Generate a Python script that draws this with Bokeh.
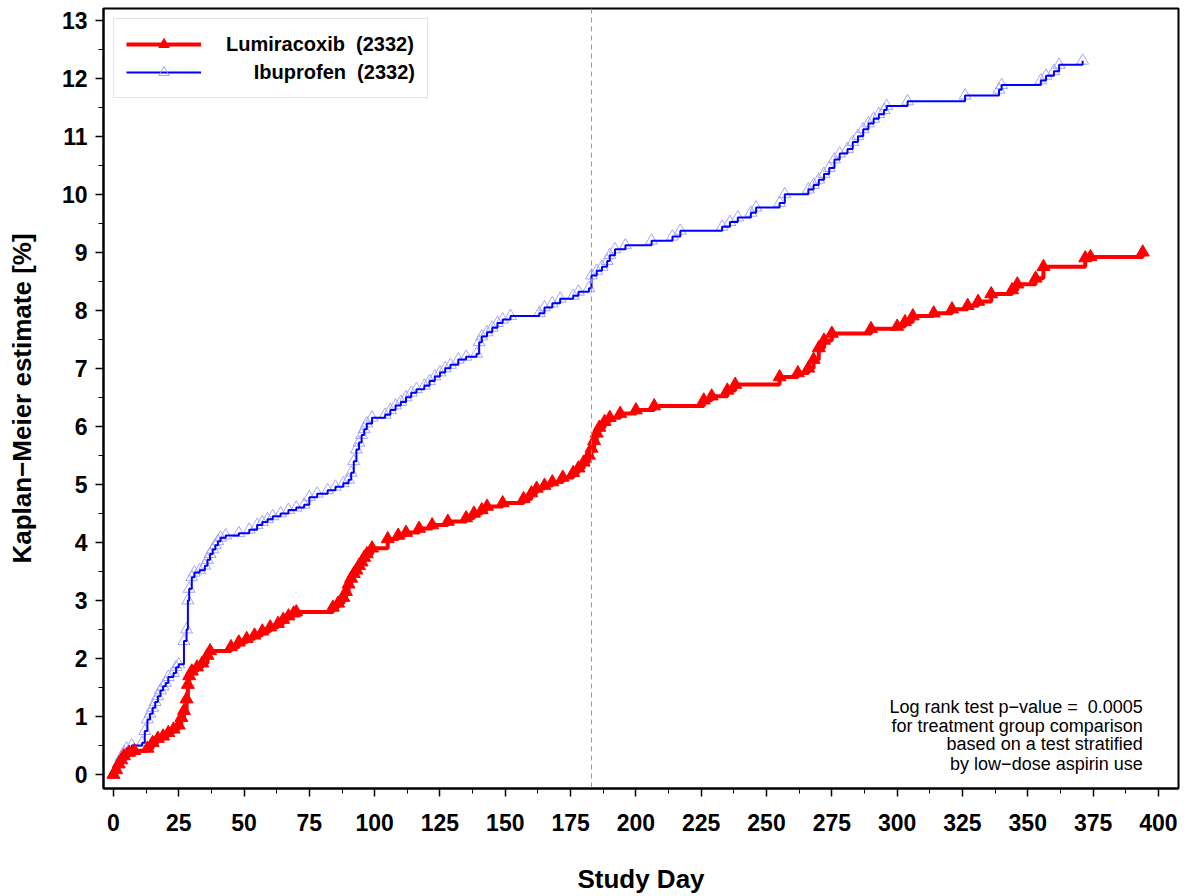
from bokeh.plotting import figure
from bokeh.models import Range1d, Span, Label, Legend, LegendItem, FixedTicker
from bokeh.embed import file_html
from bokeh.resources import INLINE

# ---------------- data ----------------
ibu_day = [0, 1, 2, 3, 4, 5, 7, 11, 12, 13, 14, 15, 16, 17, 18, 19, 20, 21, 23, 24, 25,
           27, 28, 28.5, 29, 30, 31, 33, 35, 36, 37, 38, 39, 40, 41, 43, 48, 52, 55, 57, 59,
           61, 64, 67, 70, 73, 75, 78, 82, 85, 88, 90, 91, 92, 93, 94, 95, 96, 97, 99, 104,
           106, 108, 110, 112, 114, 116, 119, 121, 123, 125, 127, 129, 132, 135, 139, 140,
           141, 143, 145, 147, 149, 152, 163, 165, 168, 171, 176, 178, 182, 183, 185, 187,
           189, 190, 192, 196, 206, 214, 217, 233, 236, 239, 244, 246, 255, 257, 266, 268,
           270, 272, 274, 276, 278, 281, 283, 285, 287, 289, 291, 293, 295, 296, 304, 326,
           339, 340, 355, 357, 360, 362, 371]
ibu_val = [0, 0.1, 0.2, 0.3, 0.38, 0.45, 0.5, 0.55, 0.75, 0.95, 1.05, 1.15, 1.25, 1.35, 1.45,
           1.52, 1.58, 1.68, 1.75, 1.85, 1.9, 2.3, 2.5, 3.0, 3.2, 3.4, 3.48, 3.52, 3.6, 3.7,
           3.8, 3.88, 3.95, 4.02, 4.08, 4.12, 4.16, 4.22, 4.3, 4.35, 4.4, 4.45, 4.5, 4.56,
           4.6, 4.65, 4.78, 4.84, 4.9, 4.96, 5.02, 5.08, 5.2, 5.4, 5.6, 5.72, 5.85, 5.95,
           6.05, 6.15, 6.2, 6.28, 6.36, 6.42, 6.5, 6.58, 6.64, 6.7, 6.78, 6.86, 6.93, 7.0,
           7.06, 7.15, 7.2, 7.25, 7.45, 7.55, 7.62, 7.7, 7.78, 7.84, 7.9, 7.95, 8.05, 8.12,
           8.2, 8.25, 8.32, 8.38, 8.6, 8.68, 8.75, 8.85, 8.95, 9.05, 9.12, 9.2, 9.27, 9.37,
           9.44, 9.52, 9.6, 9.68, 9.77, 9.85, 10.0, 10.08, 10.16, 10.25, 10.35, 10.45, 10.6,
           10.7, 10.78, 10.9, 11.0, 11.12, 11.22, 11.3, 11.38, 11.45, 11.52, 11.6, 11.7,
           11.8, 11.88, 11.96, 12.04, 12.12, 12.23, 12.3]

lum_day = [0, 1, 2, 3, 4, 6, 8, 13, 15, 17, 19, 21, 23, 25, 26, 27, 28, 28.5, 29, 30, 32,
           34, 36, 37, 45, 48, 51, 54, 57, 60, 63, 65, 67, 69, 70, 84, 86, 88, 89, 90, 91,
           92, 93, 94, 95, 96, 97, 99, 105, 109, 112, 117, 122, 128, 135, 138, 141, 143,
           149, 157, 160, 162, 165, 168, 172, 176, 178, 180, 182, 183, 184, 185, 186, 188,
           190, 194, 200, 207, 226, 229, 235, 238, 255, 262, 266, 268, 270, 272, 275, 290,
           300, 303, 306, 314, 321, 327, 331, 336, 344, 346, 353, 356, 372, 374, 394]
lum_val = [0, 0.08, 0.18, 0.25, 0.32, 0.38, 0.41, 0.45, 0.55, 0.62, 0.66, 0.72, 0.78, 0.85,
           0.98, 1.1, 1.3, 1.55, 1.7, 1.78, 1.85, 1.92, 2.05, 2.13, 2.2, 2.28, 2.34, 2.4,
           2.47, 2.54, 2.6, 2.67, 2.73, 2.78, 2.8, 2.88, 2.95, 3.05, 3.15, 3.28, 3.38, 3.46,
           3.52, 3.6, 3.66, 3.74, 3.8, 3.9, 4.06, 4.12, 4.17, 4.24, 4.3, 4.36, 4.42, 4.5,
           4.56, 4.62, 4.68, 4.75, 4.85, 4.93, 4.98, 5.04, 5.12, 5.2, 5.28, 5.38, 5.5, 5.62,
           5.75, 5.88, 5.98, 6.08, 6.15, 6.22, 6.28, 6.35, 6.45, 6.52, 6.62, 6.72, 6.85, 6.92,
           7.0, 7.15, 7.35, 7.48, 7.6, 7.68, 7.72, 7.8, 7.9, 7.95, 8.02, 8.08, 8.15, 8.28,
           8.35, 8.45, 8.55, 8.75, 8.9, 8.92, 9.0]

x_ticks = list(range(0, 401, 25))
y_ticks = list(range(0, 14))
x_minor = [12.5 + 25 * i for i in range(16)]
y_minor = [0.5 + i for i in range(13)]

NB = "\u00a0"
lum_label = "Lumiracoxib" + NB + " (2332)"
ibu_label = NB * 5 + "Ibuprofen" + NB + " (2332)"
note_lines = ["Log rank test p\u2212value =" + NB + " 0.0005",
              "for treatment group comparison",
              "based on a test stratified",
              "by low\u2212dose aspirin use"]
note_y = [1.17, 0.84, 0.52, 0.19]
six_months = 183

FONT = "Liberation Sans"

p = figure(width=1198, height=896, output_backend="svg", toolbar_location=None,
           x_range=Range1d(-3.8, 407.7), y_range=Range1d(-0.24, 13.2),
           min_border_left=103, min_border_right=20, min_border_top=8, min_border_bottom=106)
p.grid.visible = False
p.background_fill_color = "white"
p.border_fill_color = "white"
p.outline_line_color = "black"
p.outline_line_width = 2

for ax in (p.xaxis[0], p.yaxis[0]):
    ax.axis_line_color = "black"
    ax.axis_line_width = 2
    ax.major_tick_line_color = "black"
    ax.minor_tick_line_color = "black"
    ax.major_tick_line_width = 1.5
    ax.minor_tick_line_width = 1
    ax.major_tick_in = 0
    ax.major_tick_out = 8
    ax.minor_tick_in = 0
    ax.minor_tick_out = 5
    ax.major_label_text_font = FONT
    ax.major_label_text_font_size = "23px"
    ax.major_label_text_font_style = "bold"
    ax.major_label_text_color = "black"
    ax.axis_label_text_font = FONT
    ax.axis_label_text_font_size = "26px"
    ax.axis_label_text_font_style = "bold"
    ax.axis_label_text_color = "black"

p.xaxis[0].ticker = FixedTicker(ticks=x_ticks, minor_ticks=x_minor)
p.yaxis[0].ticker = FixedTicker(ticks=y_ticks, minor_ticks=y_minor)
p.xaxis[0].axis_label = "Study Day"
p.yaxis[0].axis_label = "Kaplan\u2212Meier estimate [%]"
p.xaxis[0].major_label_standoff = 17
p.xaxis[0].axis_label_standoff = 30
p.yaxis[0].major_label_standoff = 8
p.yaxis[0].axis_label_standoff = 22

p.add_layout(Span(location=six_months, dimension="height", line_color="#999999",
                  line_dash="5 4", line_width=1))

# Ibuprofen
ibu_m = p.scatter(ibu_day, ibu_val, marker="triangle", size=12, fill_color=None,
                  line_color="#9a9aff", line_width=1, line_alpha=0.9)
ibu_l = p.step(ibu_day, ibu_val, mode="after", line_color="#0000ff", line_width=2)

# Lumiracoxib
lum_l = p.step(lum_day, lum_val, mode="after", line_color="#ff0000", line_width=4)
lum_m = p.scatter(lum_day, lum_val, marker="triangle", size=13, fill_color="#ff0000",
                  line_color="#ff0000")

legend = Legend(items=[LegendItem(label=lum_label, renderers=[lum_l, lum_m]),
                       LegendItem(label=ibu_label, renderers=[ibu_l, ibu_m])],
                location="top_left", margin=10)
legend.label_text_font = FONT
legend.label_text_font_size = "20px"
legend.label_text_font_style = "bold"
legend.label_text_color = "black"
legend.glyph_width = 75
legend.glyph_height = 26
legend.label_height = 26
legend.label_standoff = 25
legend.padding = 12
legend.spacing = 2
legend.border_line_color = "#c8c8c8"
legend.border_line_width = 1
legend.background_fill_alpha = 1
p.add_layout(legend)

for txt, yy in zip(note_lines, note_y):
    p.add_layout(Label(x=394, y=yy, text=txt, text_align="right", text_baseline="middle",
                       text_font=FONT, text_font_size="18px", text_color="black"))

open("out.html", "w").write(file_html(p, INLINE))
